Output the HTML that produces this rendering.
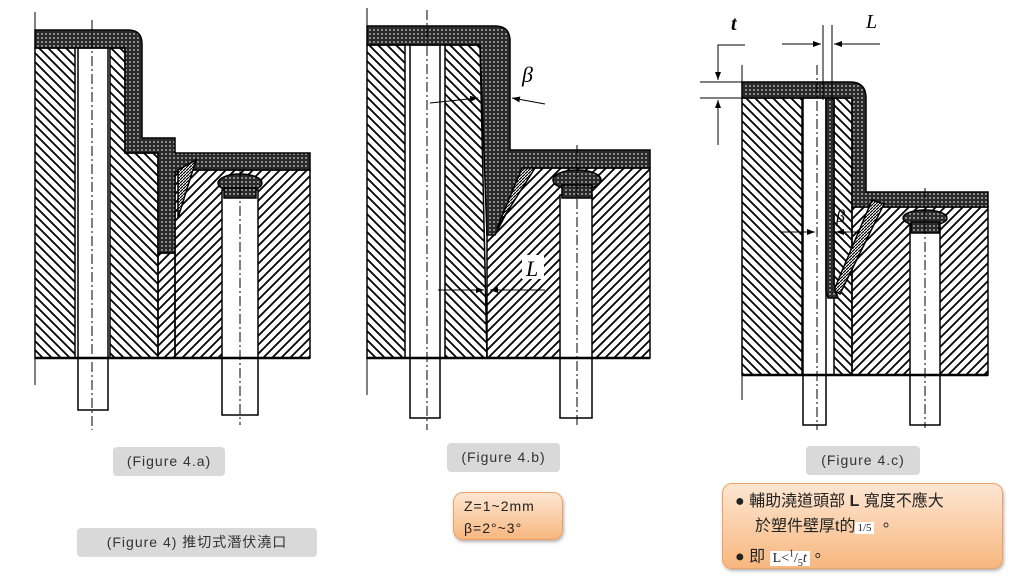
<!DOCTYPE html>
<html><head><meta charset="utf-8"><style>
body{margin:0;width:1024px;height:576px;background:#fff;position:relative;overflow:hidden;font-family:"Liberation Sans","Noto Sans CJK TC",sans-serif}
.g{position:absolute;background:#d9d9d9;border-radius:4px;font-size:14px;color:#333;letter-spacing:1px;text-align:center}
.o{position:absolute;border:1px solid #f0a060;border-radius:10px;background:linear-gradient(#fde6d2,#f8b77f);box-shadow:1px 2px 3px rgba(0,0,0,.3);color:#222}
svg{position:absolute;left:0;top:0}
</style></head><body>
<svg width="1024" height="576" viewBox="0 0 1024 576">
<defs>
<pattern id="hb" patternUnits="userSpaceOnUse" width="9" height="9"><path d="M-2,-2L11,11M-2,7L2,11M7,-2L11,2" stroke="#000" stroke-width="1.8"/></pattern>
<pattern id="hf" patternUnits="userSpaceOnUse" width="9" height="9"><path d="M11,-2L-2,11M2,-2L-2,2M11,7L7,11" stroke="#000" stroke-width="1.8"/></pattern>
<pattern id="hs" patternUnits="userSpaceOnUse" width="3" height="3"><rect width="3" height="3" fill="#fff"/><path d="M3,0L0,3" stroke="#000" stroke-width="1.2"/></pattern>
<pattern id="pl" patternUnits="userSpaceOnUse" width="4" height="4"><rect width="4" height="4" fill="#2a2a2a"/><circle cx="2" cy="2" r="0.9" fill="#ccc"/></pattern>
<marker id="ar" markerWidth="8" markerHeight="6" refX="8" refY="3" orient="auto"><path d="M0,0L8,3L0,6z" fill="#000"/></marker>
</defs>
<g stroke="#000" stroke-width="1.5">
<!-- Fig a -->
<rect x="35" y="48" width="40" height="310" fill="url(#hb)"/>
<polygon points="110,48 125,48 125,153 158,153 158,358 110,358" fill="url(#hb)"/>
<polygon points="175,170 310,170 310,358 175,358" fill="url(#hf)"/>
<rect x="158" y="253" width="17" height="105" fill="url(#hf)"/>
<rect x="78" y="48" width="30" height="362" fill="#fff"/>
<rect x="222" y="190" width="36" height="225" fill="#fff"/>
<path d="M35,30 L128,30 Q142,30 142,44 L142,138 175,138 175,153 310,153 310,170 190,170 175,172 175,253 158,253 158,153 125,153 125,48 35,48Z" fill="url(#pl)"/>
<polygon points="178,170 196,160 178,218" fill="url(#hs)"/>
<ellipse cx="240" cy="183" rx="22" ry="9" fill="url(#pl)"/>
<rect x="224" y="188" width="32" height="10" fill="url(#pl)"/>
<line x1="35" y1="358" x2="310" y2="358" stroke-width="2.5"/>
<line x1="35" y1="12" x2="35" y2="385" stroke-width="1"/>
<!-- Fig b -->
<rect x="367" y="45" width="38" height="313" fill="url(#hb)"/>
<polygon points="445,45 480,45 487,358 445,358" fill="url(#hb)"/>
<polygon points="487,168 650,168 650,358 487,358" fill="url(#hf)"/>
<rect x="410" y="45" width="30" height="373" fill="#fff"/>
<rect x="560" y="195" width="32" height="223" fill="#fff"/>
<path d="M367,26 L495,26 Q510,26 510,41 L510,150 650,150 650,168 530,168 495,235 487,235 480,45 367,45Z" fill="url(#pl)"/>
<polygon points="522,168 535,168 497,228" fill="url(#hs)"/>
<ellipse cx="577" cy="180" rx="24" ry="10" fill="url(#pl)"/>
<rect x="562" y="185" width="30" height="13" fill="url(#pl)"/>
<line x1="367" y1="358" x2="650" y2="358" stroke-width="2.5"/>
<line x1="367" y1="8" x2="367" y2="395" stroke-width="1"/>
<!-- Fig c -->
<rect x="742" y="98" width="60" height="277" fill="url(#hb)"/>
<rect x="834" y="98" width="18" height="277" fill="url(#hb)"/>
<polygon points="852,207 988,207 988,375 852,375" fill="url(#hf)"/>
<rect x="803" y="98" width="23" height="327" fill="#fff"/>
<path d="M826,98 L834,98 834,285 838,298 828,298 826,290Z" fill="url(#pl)"/>
<path d="M742,82 L850,82 Q866,82 866,98 L866,192 988,192 988,207 852,207 852,98 742,98Z" fill="url(#pl)"/>
<polygon points="872,200 884,204 840,294 834,290" fill="url(#hs)"/>
<rect x="910" y="225" width="30" height="200" fill="#fff"/>
<ellipse cx="925" cy="218" rx="22" ry="8" fill="url(#pl)"/>
<rect x="911" y="222" width="28" height="11" fill="url(#pl)"/>
<line x1="742" y1="375" x2="988" y2="375" stroke-width="2.5"/>
<line x1="742" y1="65" x2="742" y2="400" stroke-width="1"/>
</g>
<g stroke="#000" stroke-width="1" stroke-dasharray="10,3,2,3" fill="none">
<line x1="92" y1="20" x2="92" y2="430"/><line x1="240" y1="170" x2="240" y2="425"/>
<line x1="427" y1="10" x2="427" y2="430"/><line x1="577" y1="145" x2="577" y2="425"/>
<line x1="817" y1="65" x2="817" y2="430"/><line x1="925" y1="188" x2="925" y2="428"/>
</g>
<g stroke="#000" stroke-width="1" fill="none">
<line x1="430" y1="103" x2="478" y2="98" marker-end="url(#ar)"/>
<line x1="545" y1="104" x2="512" y2="98" marker-end="url(#ar)"/>
<line x1="438" y1="290" x2="484" y2="290" marker-end="url(#ar)"/>
<line x1="545" y1="290" x2="490" y2="290" marker-end="url(#ar)"/>
<line x1="487" y1="235" x2="487" y2="305"/>
<polyline points="745,45 718,45 718,80" marker-end="url(#ar)"/>
<line x1="718" y1="145" x2="718" y2="100" marker-end="url(#ar)"/>
<line x1="700" y1="82" x2="742" y2="82"/><line x1="700" y1="98" x2="742" y2="98"/>
<line x1="823" y1="25" x2="823" y2="100"/><line x1="832" y1="25" x2="832" y2="100"/>
<line x1="782" y1="44" x2="821" y2="44" marker-end="url(#ar)"/>
<line x1="880" y1="44" x2="834" y2="44" marker-end="url(#ar)"/>
<line x1="780" y1="232" x2="815" y2="232" marker-end="url(#ar)"/>
<line x1="860" y1="232" x2="836" y2="232" marker-end="url(#ar)"/>
</g>
<g font-family="Liberation Serif,serif" font-style="italic" font-size="22" fill="#000">
<text x="522" y="82">β</text>
<rect x="522" y="255" width="22" height="24" fill="#fff"/>
<text x="526" y="276">L</text>
<text x="731" y="30" font-weight="bold" font-size="20">t</text>
<text x="866" y="28" font-size="20">L</text>
<text x="836" y="222" font-size="18">β</text>
</g>
</svg>
<div class="g" style="left:113px;top:447px;width:112px;height:29px;line-height:29px">(Figure 4.a)</div>
<div class="g" style="left:447px;top:443px;width:113px;height:29px;line-height:29px">(Figure 4.b)</div>
<div class="g" style="left:806px;top:446px;width:114px;height:29px;line-height:29px">(Figure 4.c)</div>
<div class="g" style="left:77px;top:528px;width:240px;height:29px;line-height:29px">(Figure 4) 推切式潛伏澆口</div>
<div class="o" style="left:453px;top:492px;width:110px;height:48px;font-size:14px;line-height:22px;box-sizing:border-box;padding:2px 0 0 10px;letter-spacing:1px">Z=1~2mm<br>β=2°~3°</div>
<div class="o" style="left:722px;top:483px;width:281px;height:86px;font-size:16px;line-height:25px;box-sizing:border-box;padding:5px 0 0 12px">
<div>● 輔助澆道頭部 <b>L</b> 寬度不應大</div>
<div style="padding-left:20px">於塑件壁厚t的<span style="background:#fff;font-family:'Liberation Serif',serif;font-size:11px;padding:0 2px">1/5</span> 。</div>
<div>● 即 <span style="background:#fff;font-family:'Liberation Serif',serif;font-size:14px;padding:0 3px">L&lt;<sup style="font-size:10px">1</sup>/<sub style="font-size:10px">5</sub><i>t</i></span>。</div>
</div>
</body></html>
